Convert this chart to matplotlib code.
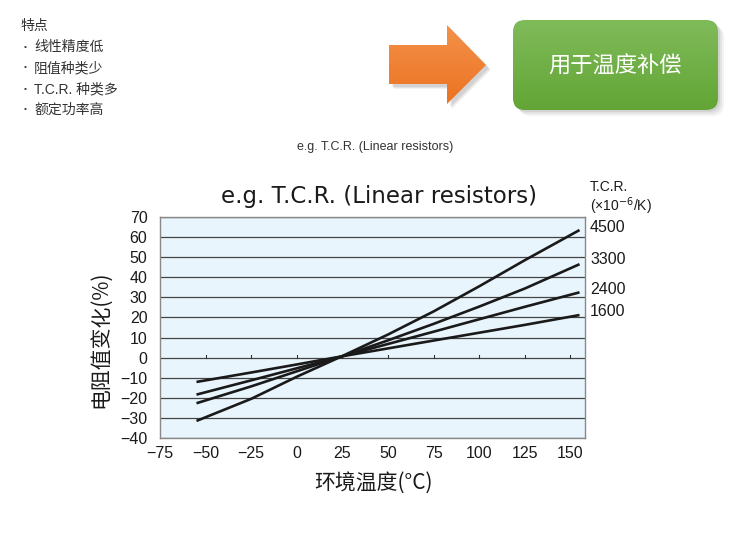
import numpy as np
import matplotlib
matplotlib.use('Agg')
from matplotlib import pyplot as plt
from matplotlib.patches import Polygon, FancyBboxPatch
from matplotlib.colors import LinearSegmentedColormap

plt.rcParams['font.family'] = ['Liberation Sans', 'Noto Sans CJK SC', 'DejaVu Sans']
plt.rcParams['axes.unicode_minus'] = True

# data
temp = [-55, -25, 0, 25, 50, 75, 100, 125, 155]
tcr_labels = ['4500', '3300', '2400', '1600']
change_4500 = [-31.5, -20.5, -9.5, 0.8, 11.5, 23.0, 35.5, 48.5, 63.5]
change_3300 = [-22.7, -14.3, -6.8, 0.7, 8.6, 16.8, 25.4, 34.4, 46.5]
change_2400 = [-18.4, -11.3, -5.3, 0.7, 6.8, 12.9, 19.1, 25.3, 32.5]
change_1600 = [-12.1, -7.4, -3.4, 0.7, 4.6, 8.5, 12.4, 16.3, 21.2]
series = [change_4500, change_3300, change_2400, change_1600]

xticks = [-75, -50, -25, 0, 25, 50, 75, 100, 125, 150]
yticks = [-40, -30, -20, -10, 0, 10, 20, 30, 40, 50, 60, 70]

features_title = '特点'
features = ['线性精度低', '阻值种类少', 'T.C.R. 种类多', '额定功率高']

W, H = 741, 536
fig = plt.figure(figsize=(W / 100, H / 100), dpi=100)

# overlay in pixel coordinates for the header part
ov = fig.add_axes([0, 0, 1, 1])
ov.set_xlim(0, W)
ov.set_ylim(H, 0)
ov.axis('off')

txt_col = '#333333'
ov.text(20, 26, features_title, fontsize=10, color=txt_col, va='center', ha='left')
for i, f in enumerate(features):
    yy = 47 + i * 21
    ov.text(24, yy, '•', fontsize=6, color=txt_col, va='center', ha='left')
    ov.text(34, yy, f, fontsize=10, color=txt_col, va='center', ha='left')

grad = np.linspace(0, 1, 100).reshape(-1, 1)

# orange arrow with soft shadow
arrow_pts = [(389, 45), (447, 45), (447, 25), (486, 65), (447, 104), (447, 84), (389, 84)]
for k, a in [(5, 0.05), (4, 0.06), (3, 0.07)]:
    ov.add_patch(Polygon([(x + k, y + k) for x, y in arrow_pts], closed=True, fc='#000000',
                         alpha=a, ec='none'))
arrow = Polygon(arrow_pts, closed=True, fc='none', ec='none')
ov.add_patch(arrow)
orange_cm = LinearSegmentedColormap.from_list('o', ['#f39149', '#ec7322'])
im = ov.imshow(grad, cmap=orange_cm, extent=(389, 486, 104, 25), aspect='auto', zorder=2)
im.set_clip_path(arrow)

# green rounded box
for k, a in [(6, 0.05), (4, 0.06), (2, 0.07)]:
    ov.add_patch(FancyBboxPatch((513 + k, 20 + k), 205, 90, boxstyle='round,pad=0,rounding_size=12',
                                fc='#000000', alpha=a, ec='none'))
box = FancyBboxPatch((513, 20), 205, 90, boxstyle='round,pad=0,rounding_size=12', fc='none', ec='none')
ov.add_patch(box)
green_cm = LinearSegmentedColormap.from_list('g', ['#80bb5a', '#62a535'])
im2 = ov.imshow(grad, cmap=green_cm, extent=(513, 718, 110, 20), aspect='auto', zorder=2)
im2.set_clip_path(box)
ov.text(615, 66, '用于温度补偿', fontsize=16, color='white', ha='center', va='center', zorder=3,
        family=['Noto Sans CJK SC', 'DejaVu Sans'])
ov.set_xlim(0, W)
ov.set_ylim(H, 0)

ov.text(375, 147, 'e.g. T.C.R. (Linear resistors)', fontsize=9, color=txt_col, ha='center', va='center')

# the chart
ax = fig.add_axes([160 / W, 1 - 438 / H, 425 / W, 221 / H])
ax.set_facecolor('#e9f5fd')
for s in series:
    ax.plot(temp, s, color='#1a1a1a', lw=1.9, zorder=3, solid_capstyle='butt')
for t in xticks[1:]:
    ax.plot([t, t], [0, 1.3], color='#333333', lw=0.8, zorder=2)
ax.set_xlim(-75, 158)
ax.set_ylim(-40, 70)
ax.set_xticks(xticks)
ax.set_yticks(yticks)
ax.yaxis.grid(True, color='#444444', lw=0.9)
ax.set_axisbelow(True)
ax.tick_params(axis='both', length=0, labelsize=11.5, colors='#1a1a1a')
ax.tick_params(axis='y', pad=9)
ax.tick_params(axis='x', pad=6)
for sp in ax.spines.values():
    sp.set_color('#888888')
    sp.set_linewidth(1.0)

fig.text(379 / W, 1 - 196 / H, 'e.g. T.C.R. (Linear resistors)', fontsize=16.5, ha='center', va='center',
         color='#1a1a1a', family=['DejaVu Sans'])
fig.text(100 / W, 1 - 339 / H, '电阻值变化(%)', fontsize=15, rotation=90, ha='center', va='center',
         color='#1a1a1a', family=['Noto Sans CJK SC', 'DejaVu Sans'])
fig.text(373 / W, 1 - 483 / H, '环境温度(°C)', fontsize=15, ha='center', va='center',
         color='#1a1a1a', family=['Noto Sans CJK SC', 'DejaVu Sans'])

# right-hand TCR labels
ov.text(590, 187, 'T.C.R.', fontsize=10, color='#1a1a1a', ha='left', va='center')
ov.text(590, 206, '(×10$^{-6}$/K)', fontsize=10, color='#1a1a1a', ha='left', va='center')
label_y = [227, 260, 289, 312]
for lab, yy in zip(tcr_labels, label_y):
    ov.text(590, yy, lab, fontsize=11.5, color='#1a1a1a', ha='left', va='center')

fig.savefig('out.png', dpi=100)
